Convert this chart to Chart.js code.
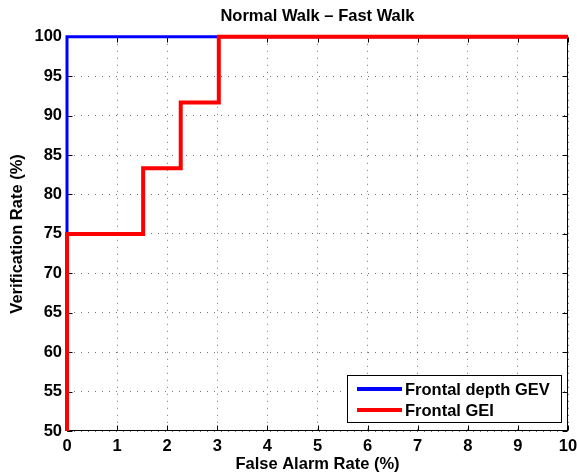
<!DOCTYPE html>
<html>
<head>
<meta charset="utf-8">
<script src="https://cdn.jsdelivr.net/npm/chart.js@4/dist/chart.umd.min.js"></script>
<style>
  html, body { margin: 0; padding: 0; background: #fff; }
  #wrap { position: relative; width: 577px; height: 474px; }
</style>
</head>
<body>
<div id="wrap"><canvas id="c" width="577" height="474"></canvas></div>
<script>
const chartTitle = 'Normal Walk \u2013 Fast Walk';
const xTitle = 'False Alarm Rate (%)';
const yTitle = 'Verification Rate (%)';
const seriesNames = ['Frontal depth GEV', 'Frontal GEI'];
const seriesColors = ['#0000ff', '#ff0000'];

// Frontal depth GEV (step curve)
const gevFAR = [0, 0, 10];
const gevVR  = [50, 100, 100];
// Frontal GEI (step curve)
const geiFAR = [0, 0, 1.52, 1.52, 2.27, 2.27, 3.03, 3.03, 10];
const geiVR  = [50, 75, 75, 83.33, 83.33, 91.67, 91.67, 100, 100];

const xTicks = [0, 1, 2, 3, 4, 5, 6, 7, 8, 9, 10];
const yTicks = [50, 55, 60, 65, 70, 75, 80, 85, 90, 95, 100];

const FONT = "'Liberation Sans', Arial, Helvetica, sans-serif";
const FS = 16.5;

function pts(xs, ys) { return xs.map((x, i) => ({x: x, y: ys[i]})); }

const boxPlugin = {
  id: 'matlabBox',
  beforeDatasetsDraw(chart) {
    const {ctx, chartArea: a, scales} = chart;
    ctx.save();
    ctx.strokeStyle = '#000';
    ctx.lineWidth = 1;
    ctx.setLineDash([]);
    const L = Math.round(a.left) + 0.5, R = Math.round(a.right) - 0.5;
    const T = Math.round(a.top) + 0.5, B = Math.round(a.bottom) - 0.5;
    ctx.strokeRect(L, T, R - L, B - T);
    const tl = 5;
    ctx.beginPath();
    xTicks.forEach(v => {
      const px = Math.round(scales.x.getPixelForValue(v)) + 0.5;
      ctx.moveTo(px, B); ctx.lineTo(px, B - tl);
      ctx.moveTo(px, T); ctx.lineTo(px, T + tl);
    });
    yTicks.forEach(v => {
      const py = Math.round(scales.y.getPixelForValue(v)) + 0.5;
      ctx.moveTo(L, py); ctx.lineTo(L + tl, py);
      ctx.moveTo(R, py); ctx.lineTo(R - tl, py);
    });
    ctx.stroke();
    ctx.restore();
  },
  afterDraw(chart) {
    const {ctx, chartArea: a} = chart;
    const w = 214, h = 47;
    const right = Math.round(a.right) - 7, bottom = Math.round(a.bottom) - 9;
    const left = right - w, top = bottom - h;
    ctx.save();
    ctx.fillStyle = '#fff';
    ctx.fillRect(left, top, w, h);
    ctx.strokeStyle = '#000';
    ctx.lineWidth = 1;
    ctx.strokeRect(left + 0.5, top + 0.5, w, h);
    ctx.font = 'bold ' + FS + 'px ' + FONT;
    ctx.textBaseline = 'middle';
    ctx.textAlign = 'left';
    chart.data.datasets.forEach((ds, i) => {
      const y = top + 14 + i * 21;
      ctx.strokeStyle = ds.borderColor;
      ctx.lineWidth = 4;
      ctx.beginPath();
      ctx.moveTo(left + 10, y);
      ctx.lineTo(left + 55, y);
      ctx.stroke();
      ctx.fillStyle = '#000';
      ctx.fillText(ds.label, left + 58, y + 1);
    });
    ctx.restore();
  }
};

new Chart(document.getElementById('c'), {
  type: 'scatter',
  data: {
    datasets: [
      { label: seriesNames[0], data: pts(gevFAR, gevVR), borderColor: seriesColors[0], backgroundColor: seriesColors[0],
        showLine: true, borderWidth: 3, pointRadius: 0, tension: 0, order: 1, clip: 4,
        borderJoinStyle: 'miter', borderCapStyle: 'butt' },
      { label: seriesNames[1], data: pts(geiFAR, geiVR), borderColor: seriesColors[1], backgroundColor: seriesColors[1],
        showLine: true, borderWidth: 4, pointRadius: 0, tension: 0, order: 0, clip: 4,
        borderJoinStyle: 'miter', borderCapStyle: 'butt' }
    ]
  },
  options: {
    responsive: false,
    animation: false,
    devicePixelRatio: 1,
    layout: { padding: { left: 0, right: 9, top: 0, bottom: 0 } },
    plugins: {
      legend: { display: false },
      tooltip: { enabled: false },
      title: {
        display: true, text: chartTitle, color: '#000', fullSize: false,
        font: { family: FONT, size: FS, weight: 'bold', lineHeight: 1.2 },
        padding: { top: 7, bottom: 10 }
      }
    },
    scales: {
      x: {
        type: 'linear', min: 0, max: 10,
        afterFit(s) { s.height = 43; s.paddingLeft = 0; s.paddingRight = 0; },
        afterBuildTicks(s) { s.ticks = xTicks.map(v => ({value: v})); },
        grid: { color: 'rgba(0,0,0,0.55)', lineWidth: 1, drawTicks: false },
        border: { display: false, dash: [1, 6] },
        ticks: { color: '#000', padding: 6, maxRotation: 0, font: { family: FONT, size: FS, weight: 'bold' } },
        title: { display: true, text: xTitle, color: '#000', padding: { top: 0, bottom: 0 },
                 font: { family: FONT, size: FS, weight: 'bold', lineHeight: 1.1 } }
      },
      y: {
        type: 'linear', min: 50, max: 100,
        afterFit(s) { s.width = 67; s.paddingTop = 0; s.paddingBottom = 0; },
        afterBuildTicks(s) { s.ticks = yTicks.map(v => ({value: v})); },
        grid: { color: 'rgba(0,0,0,0.55)', lineWidth: 1, drawTicks: false },
        border: { display: false, dash: [1, 6] },
        ticks: { color: '#000', padding: 5, font: { family: FONT, size: FS, weight: 'bold' } },
        title: { display: true, text: yTitle, color: '#000', padding: { top: 8, bottom: 0 },
                 font: { family: FONT, size: FS, weight: 'bold', lineHeight: 1.2 } }
      }
    }
  },
  plugins: [boxPlugin]
});
</script>
</body>
</html>
